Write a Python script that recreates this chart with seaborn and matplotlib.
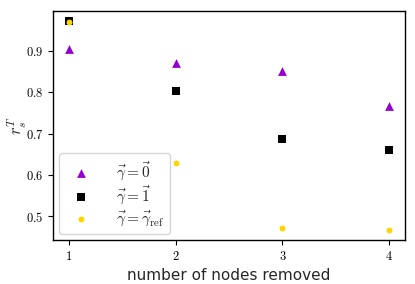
import matplotlib
matplotlib.use("Agg")
import matplotlib.pyplot as plt
import seaborn as sns
import pandas as pd

# data
nodes_removed = [1, 2, 3, 4]
r_gamma_zero = [0.905, 0.871, 0.851, 0.766]
r_gamma_one = [0.973, 0.803, 0.687, 0.660]
r_gamma_ref = [0.970, 0.628, 0.470, 0.466]

labels = [r"$\vec{\gamma}=\vec{0}$", r"$\vec{\gamma}=\vec{1}$", r"$\vec{\gamma}=\vec{\gamma}_{\rm ref}$"]
colors = ["#9400D3", "black", "#FFD700"]
markers = ["^", "s", "o"]
sizes = [40, 36, 18]

sns.set_style("ticks")
plt.rcParams["mathtext.fontset"] = "cm"
plt.rcParams["font.family"] = ["DejaVu Sans"]

fig, ax = plt.subplots(figsize=(4.15, 2.84), dpi=100)

series = [r_gamma_zero, r_gamma_one, r_gamma_ref]
for vals, lab, c, m, s in zip(series, labels, colors, markers, sizes):
    df = pd.DataFrame({"nodes": nodes_removed, "r": vals})
    sns.scatterplot(data=df, x="nodes", y="r", ax=ax, color=c, marker=m, s=s,
                    linewidth=0, label=lab, zorder=3)

ax.set_xlim(0.85, 4.15)
ax.set_ylim(0.442, 0.997)
ax.set_xticks(nodes_removed)
ax.set_xticklabels([f"${v}$" for v in nodes_removed], fontsize=9)
yt = [0.5, 0.6, 0.7, 0.8, 0.9]
ax.set_yticks(yt)
ax.set_yticklabels([f"${v}$" for v in yt], fontsize=9)
ax.set_xlabel("number of nodes removed", fontsize=11)
ax.set_ylabel(r"$r_s^T$", fontsize=12)
ax.yaxis.set_label_coords(-0.068, 0.5)
for sp in ax.spines.values():
    sp.set_visible(True)
    sp.set_color("black")
    sp.set_linewidth(1.0)
ax.tick_params(colors="black", length=3.5)

leg = ax.legend(loc="lower left", fontsize=11, frameon=True, handletextpad=1.3,
                borderpad=0.4, labelspacing=0.1, borderaxespad=0.4)
leg.get_frame().set_edgecolor("#cccccc")

fig.subplots_adjust(left=0.128, right=0.976, top=0.961, bottom=0.155)
fig.savefig("out.png", dpi=100)
